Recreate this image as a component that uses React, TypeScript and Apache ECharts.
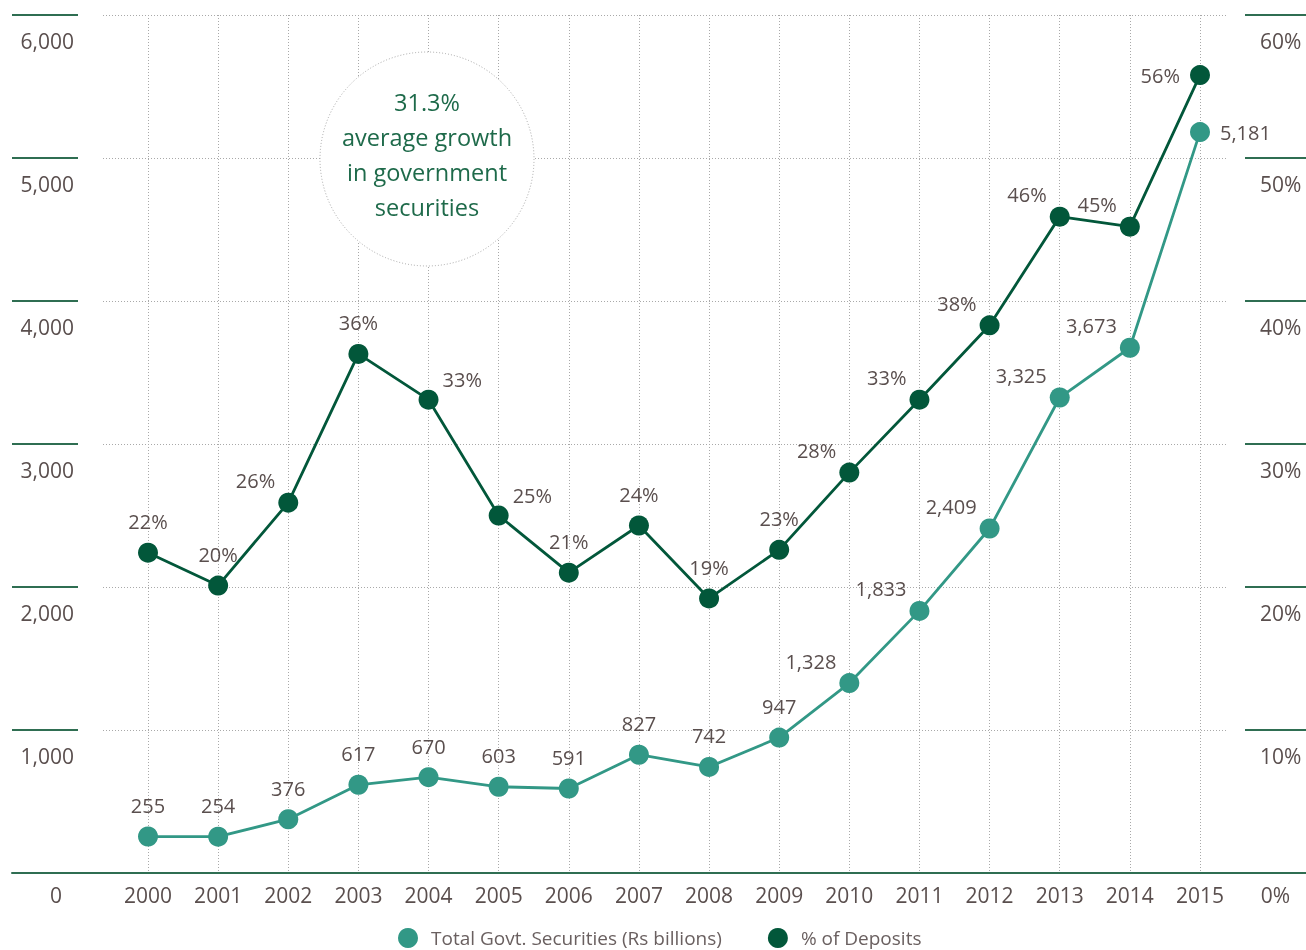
import React, { useEffect, useRef } from "react";
import * as echarts from "echarts";

const years = ["2000","2001","2002","2003","2004","2005","2006","2007","2008","2009","2010","2011","2012","2013","2014","2015"];
const securities = [255, 254, 376, 617, 670, 603, 591, 827, 742, 947, 1328, 1833, 2409, 3325, 3673, 5181];
const deposits = [22.4, 20.1, 25.9, 36.3, 33.1, 25.0, 21.0, 24.3, 19.2, 22.6, 28.0, 33.1, 38.3, 45.9, 45.2, 55.8];
const securitiesLabelPlace = ["t","t","t","t","t","t","t","t","t","t","tl","tl","tl","tl","tl","r"];
const depositsLabelPlace = ["t","t","tl","t","tr","tr","t","t","t","t","tl","tl","tl","tl","tl","l"];
const leftTicks = { min: 0, max: 6000, interval: 1000 };
const rightTicks = { min: 0, max: 60, interval: 10 };
const annotation = "31.3%\naverage growth\nin government\nsecurities";

const TEAL = "#329886";
const DARK = "#02573a";
const TEXT = "#5a4f4e";
const GRID = "#a9a9a9";
const RULE = "#2f6e52";
const FONT = "'Open Sans', sans-serif";

function labelFor(code: string) {
  switch (code) {
    case "tl":
      return { position: "left", distance: 3, offset: [0, -22] };
    case "tr":
      return { position: "right", distance: 4, offset: [0, -20] };
    case "r":
      return { position: "right", distance: 10, offset: [0, 0] };
    case "l":
      return { position: "left", distance: 10, offset: [0, 0] };
    default:
      return { position: "top", distance: 11, offset: [0, 0] };
  }
}

export default function App() {
  const ref = useRef<HTMLDivElement>(null);
  useEffect(() => {
    if (!ref.current) return;
    const chart = echarts.init(ref.current, null, { renderer: "svg" });
    const labelBase = { show: true, fontSize: 20, color: TEXT, fontFamily: FONT };
    const dotted = { color: GRID, width: 1, type: [1, 2] as any };
    const option: any = {
      animation: false,
      textStyle: { fontFamily: FONT },
      grid: [
        { left: 148, right: 106, top: 15, bottom: 77 },
        { left: 103, right: 80, top: 15, bottom: 77 },
        { left: 12, width: 66, top: 15, bottom: 77 },
        { left: 12, right: 0, top: 15, bottom: 77 },
        { left: 1245, right: 0, top: 15, bottom: 77 },
      ],
      xAxis: [
        {
          gridIndex: 0, type: "category", data: years, boundaryGap: false,
          axisLine: { show: false }, axisTick: { show: false },
          axisLabel: { fontSize: 21, color: TEXT, margin: 11, fontFamily: FONT },
          splitLine: { show: true, lineStyle: dotted },
        },
        { gridIndex: 1, type: "value", min: 0, max: 1, axisLine: { show: false }, axisTick: { show: false }, axisLabel: { show: false }, splitLine: { show: false } },
        {
          gridIndex: 2, type: "category", data: ["0"], boundaryGap: true,
          axisLine: { show: false }, axisTick: { show: false },
          axisLabel: { fontSize: 21, color: TEXT, margin: 11, padding: [0, 0, 0, 22], fontFamily: FONT },
        },
        {
          gridIndex: 3, type: "value", min: 0, max: 1,
          axisLine: { show: true, lineStyle: { color: RULE, width: 2 } },
          axisTick: { show: false }, axisLabel: { show: false }, splitLine: { show: false },
        },
        {
          gridIndex: 4, type: "category", data: ["0%"], boundaryGap: true,
          axisLine: { show: false }, axisTick: { show: false },
          axisLabel: { fontSize: 21, color: TEXT, margin: 11, fontFamily: FONT },
        },
      ],
      yAxis: [
        { gridIndex: 0, type: "value", ...leftTicks, show: false },
        { gridIndex: 0, type: "value", ...rightTicks, show: false },
        {
          gridIndex: 1, type: "value", ...leftTicks,
          axisLine: { show: false }, axisTick: { show: false }, axisLabel: { show: false },
          splitLine: { show: true, lineStyle: dotted },
        },
        {
          gridIndex: 2, type: "value", ...leftTicks, position: "right",
          axisLine: { show: false }, axisTick: { show: false },
          axisLabel: {
            inside: true, showMinLabel: false, margin: 4, fontSize: 21, color: TEXT, fontFamily: FONT,
            verticalAlign: "top", padding: [15, 0, 0, 0],
            formatter: (v: number) => v.toLocaleString("en-US"),
          },
          splitLine: { show: true, lineStyle: { color: RULE, width: 2 } },
        },
        { gridIndex: 3, type: "value", min: 0, max: 1, show: false },
        {
          gridIndex: 4, type: "value", ...rightTicks, position: "left",
          axisLine: { show: false }, axisTick: { show: false },
          axisLabel: {
            inside: true, showMinLabel: false, margin: 15, fontSize: 21, color: TEXT, fontFamily: FONT,
            verticalAlign: "top", padding: [15, 0, 0, 0],
            formatter: (v: number) => v + "%",
          },
          splitLine: { show: true, lineStyle: { color: RULE, width: 2 } },
        },
      ],
      legend: {
        left: 398, top: 928, itemWidth: 20, itemHeight: 20, itemGap: 46, icon: "circle", padding: 0,
        textStyle: { fontSize: 19, lineHeight: 20, color: "#6a6060", fontFamily: FONT, padding: [0, 0, 0, 8] },
        data: ["Total Govt. Securities (Rs billions)", "% of Deposits"],
      },
      series: [
        {
          name: "Total Govt. Securities (Rs billions)", type: "line", xAxisIndex: 0, yAxisIndex: 0,
          symbol: "circle", symbolSize: 20, color: TEAL,
          lineStyle: { color: TEAL, width: 2.8 }, itemStyle: { color: TEAL },
          data: securities.map((v, i) => ({
            value: v,
            label: { ...labelBase, ...labelFor(securitiesLabelPlace[i]), formatter: (p: any) => Number(p.value).toLocaleString("en-US") },
          })),
        },
        {
          name: "% of Deposits", type: "line", xAxisIndex: 0, yAxisIndex: 1,
          symbol: "circle", symbolSize: 20, color: DARK,
          lineStyle: { color: DARK, width: 2.8 }, itemStyle: { color: DARK },
          data: deposits.map((v, i) => ({
            value: v,
            label: { ...labelBase, ...labelFor(depositsLabelPlace[i]), formatter: (p: any) => Math.round(p.value) + "%" },
          })),
        },
      ],
      graphic: [
        {
          type: "circle", z: 10, shape: { cx: 427, cy: 159, r: 107 },
          style: { fill: "#ffffff", stroke: "#a5a5a5", lineWidth: 1, lineDash: [1, 2] },
        },
        {
          type: "text", z: 11, x: 427, y: 154,
          style: {
            text: annotation, fill: "#1e6a4a", fontSize: 23.5, fontFamily: FONT,
            lineHeight: 35, align: "center", verticalAlign: "middle",
          },
        },
      ],
    };
    chart.setOption(option);
    return () => chart.dispose();
  }, []);
  return <div ref={ref} style={{ position: "fixed", left: 0, top: 0, width: 1306, height: 950 }} />;
}
